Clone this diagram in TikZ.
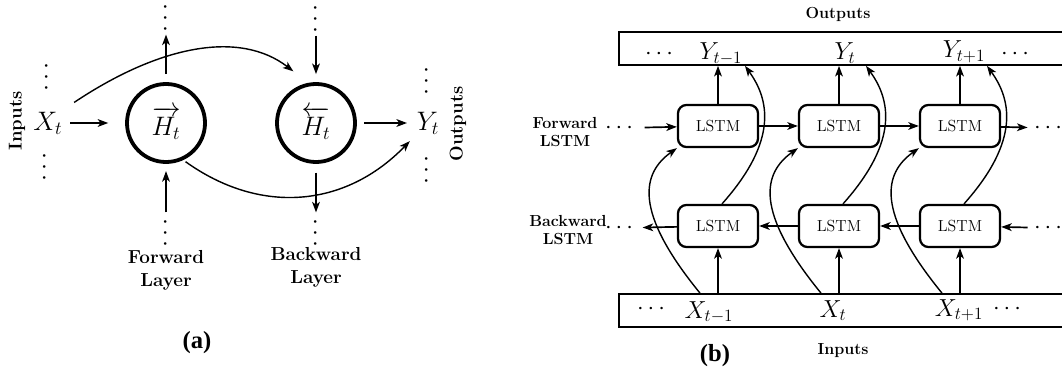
\RequirePackage{fix-cm}
\documentclass[tikz,border=0pt]{standalone}
\usepackage{amsmath}
\usepackage{amssymb}
\usepackage{fontspec}
\newfontfamily\tagfont{Liberation Serif}
\usetikzlibrary{arrows.meta}

\begin{document}
\begin{tikzpicture}[x=0.025cm, y=-0.025cm,
    arr/.style={-{Stealth[length=7.5pt,width=5.5pt,inset=2pt]}, line width=1.2pt},
    arrc/.style={arr, line width=1pt},
    cell/.style={circle, draw, line width=2.7pt, minimum size=1.95cm, inner sep=0pt, font=\fontsize{19}{22}\selectfont},
    lstm/.style={rectangle, rounded corners=6pt, draw, line width=1.6pt, minimum width=2cm, minimum height=1.05cm, font=\fontsize{11.4}{13}\selectfont},
    seq/.style={draw, line width=1.1pt, minimum width=11.4cm, minimum height=0.83cm},
    vdot/.style={rotate=90, inner sep=1pt, font=\fontsize{18}{20}\selectfont},
    hdot/.style={inner sep=1pt, font=\fontsize{17}{20}\selectfont},
    biga/.style={font=\fontsize{19}{22}\selectfont},
    bigb/.style={font=\fontsize{17.5}{20}\selectfont, anchor=base},
    side/.style={rotate=90, font=\fontsize{13.2}{16}\selectfont\bfseries},
    lab/.style={font=\fontsize{13.4}{16.5}\selectfont\bfseries, align=center},
    labb/.style={font=\fontsize{11.4}{13}\selectfont\bfseries, align=center},
    tag/.style={font=\fontsize{17.5}{20}\selectfont\tagfont\bfseries}]
\useasboundingbox (0,0) rectangle (1062,373);

% Nodes (a)
\node[side] (inA) at (17,121) {Inputs};
\node[side] (outA) at (458,124) {Outputs};
\node[biga] (xa) at (48,123) {$X_t$};
\node[biga] (ya) at (428,123) {$Y_t$};
\node[cell] (hf) at (166,123) {$\overrightarrow{H_t}$};
\node[cell] (hb) at (316,123) {$\overleftarrow{H_t}$};
\node[vdot] (xu) at (47,75) {$\cdots$};
\node[vdot] (xd) at (45,165) {$\cdots$};
\node[vdot] (yu) at (427,79) {$\cdots$};
\node[vdot] (yd) at (427,168) {$\cdots$};
\node[vdot] (fu) at (166,16) {$\cdots$};
\node[vdot] (bu) at (316,17) {$\cdots$};
\node[vdot] (fd) at (166,231) {$\cdots$};
\node[vdot] (bd) at (316,231) {$\cdots$};
\node[lab] (fl) at (166,270) {Forward\\Layer};
\node[lab] (bl) at (316,267) {Backward\\Layer};
\node[tag] (ca) at (197,343) {(a)};

% Edges (a)
\draw[arr, shorten <=2pt, shorten >=0.42cm] (xa) -- (hf);
\draw[arr, shorten <=0.18cm, shorten >=0.12cm] (hb) -- (ya);
\draw[arr, shorten <=0.2cm] (hf) -- (fu);
\draw[arr, shorten >=0.2cm] (bu) -- (hb);
\draw[arr, shorten >=0.18cm] (fd) -- (hf);
\draw[arr, shorten <=0.22cm] (hb) -- (bd);
\draw[arrc, shorten <=0.2cm, shorten >=0.47cm] (xa.north east) .. controls (160,45) and (240,30) .. (hb.101);
\draw[arrc, shorten <=2pt, shorten >=2pt] (hf.-65) .. controls (260,215) and (345,208) .. (ya.south west);

% Nodes (b)
\node[labb] (outB) at (838,14) {Outputs};
\node[labb] (inB) at (843,351) {Inputs};
\node[labb] (fwB) at (565,132) {Forward\\LSTM};
\node[labb] (bwB) at (568,230) {Backward\\LSTM};
\node[tag] (cb) at (715,356) {(b)};
\node[seq] (ob) at (847,48.5) {};
\node[seq] (ib) at (847,310.5) {};
\node[bigb] (y1) at (721,60) {$Y_{t-1}$};
\node[bigb] (y2) at (845,60) {$Y_t$};
\node[bigb] (y3) at (964,58) {$Y_{t+1}$};
\node[bigb] (x1) at (709,318) {$X_{t-1}$};
\node[bigb] (x2) at (833,317) {$X_t$};
\node[bigb] (x3) at (959,316) {$X_{t+1}$};
\node[hdot] (od1) at (661,54) {$\cdots$};
\node[hdot] (od2) at (1017,54) {$\cdots$};
\node[hdot] (id1) at (653,309) {$\cdots$};
\node[hdot] (id2) at (1009,309) {$\cdots$};
\node[hdot] (fdl) at (621,128) {$\cdots$};
\node[hdot] (fdr) at (1050,128) {$\cdots$};
\node[hdot] (bdl) at (621,228) {$\cdots$};
\node[hdot] (bdr) at (1050,228) {$\cdots$};
\foreach \i/\x in {1/718, 2/839, 3/960} {
    \node[lstm] (f\i) at (\x,126) {LSTM};
    \node[lstm] (b\i) at (\x,226) {LSTM};
}

% Edges (b)
\draw[arr, shorten <=0.15cm] (fdl) -- (f1);
\draw[arr] (f1) -- (f2);
\draw[arr] (f2) -- (f3);
\draw[arr, shorten >=0.12cm] (f3) -- (fdr);
\draw[arr, shorten <=0.12cm] (bdr) -- (b3);
\draw[arr] (b3) -- (b2);
\draw[arr] (b2) -- (b1);
\draw[arr, shorten >=0.1cm] (b1) -- (bdl);
\foreach \i in {1,2,3} {
    \draw[arr] (f\i) -- (f\i |- ob.south);
    \draw[arr] (b\i |- ib.north) -- (b\i);
    \draw[arrc] ([xshift=-0.45cm]b\i.south |- ib.north) .. controls +(-67,-82) and +(-35,25) .. (f\i.south west);
    \draw[arrc] ([xshift=0.1cm]b\i.north) .. controls +(58,-65) and +(23,32) .. ([xshift=0.675cm]f\i.north |- ob.south);
}
\end{tikzpicture}
\end{document}
